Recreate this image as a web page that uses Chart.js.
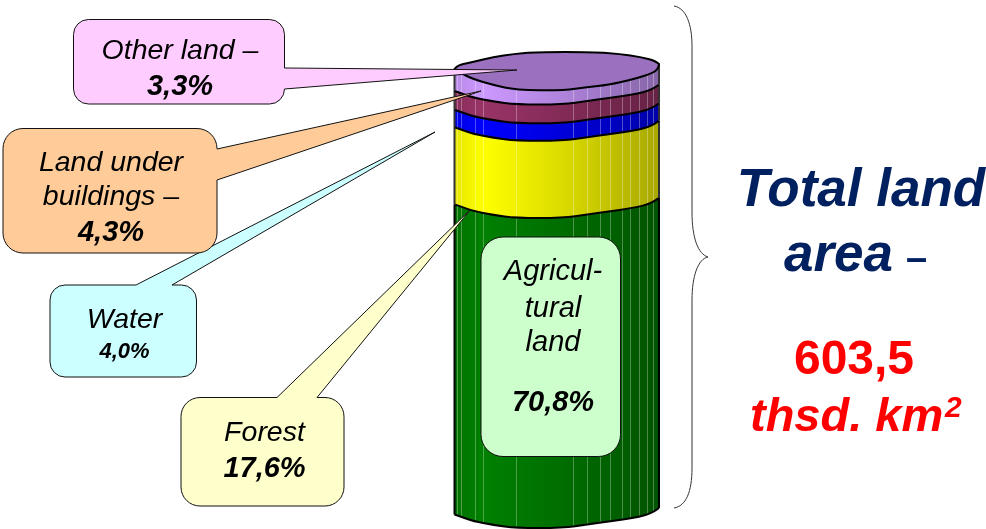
<!DOCTYPE html>
<html>
<head>
<meta charset="utf-8">
<title>Total land area</title>
<script src="https://cdn.jsdelivr.net/npm/chart.js@4"></script>
<style>
  html, body { margin: 0; padding: 0; background: #fff; overflow: hidden; }
  canvas { display: block; }
</style>
</head>
<body>
<canvas id="chart" width="986" height="529"></canvas>
<script>
// land use, bottom of the cylinder first
const categories = ["Agricultural land", "Forest", "Water", "Land under buildings", "Other land"];
const shares = [70.8, 17.6, 4.0, 4.3, 3.3];
const baseColors = [[0, 128, 0], [255, 255, 0], [0, 0, 255], [153, 51, 102], [204, 153, 255]];
const totalArea = 603.5;

// wobbly front edge of the polygonal cylinder: [fraction of width, dy]
const frontEdge = [[0, -13.5], [0.05, -10], [0.09, -7], [0.19, -3], [0.3, 0], [0.53, 0], [0.65, -3.5], [0.75, -6.5], [0.88, -10], [0.97, -15], [1, -20]];
const topFront = [[0, -21], [0.03, -17], [0.09, -11], [0.19, -5], [0.3, 0], [0.53, 0.5], [0.65, -3], [0.75, -5], [0.88, -11], [0.97, -17], [0.995, -21], [1, -26]];
const topBack = [[1, -26], [0.985, -29], [0.91, -33], [0.81, -36], [0.68, -38], [0.4, -38], [0.29, -36], [0.19, -33], [0.09, -28], [0.02, -25], [0, -21]];
const facets = [0.01, 0.03, 0.1, 0.14, 0.3, 0.58, 0.65, 0.71, 0.76, 0.82, 0.86, 0.9, 0.94, 0.97];

const SANS = '"Liberation Sans", Arial, sans-serif';

function pct(v) {
  return v.toFixed(1).replace(".", ",") + "%";
}

function shade(rgb, k) {
  return "rgb(" + rgb.map((c) => Math.round(c * k)).join(",") + ")";
}

function sideGradient(ctx, left, right, rgb) {
  const g = ctx.createLinearGradient(left, 0, right, 0);
  g.addColorStop(0, shade(rgb, 0.9));
  g.addColorStop(0.14, shade(rgb, 1));
  g.addColorStop(0.5, shade(rgb, 0.87));
  g.addColorStop(1, shade(rgb, 0.66));
  return g;
}

function edgePoints(edge, left, width, y) {
  return edge.map(([f, dy]) => [left + f * width, y + dy]);
}

// goes through the midpoints so the facets read as a soft wobble
function trace(ctx, pts, move) {
  if (move) ctx.moveTo(pts[0][0], pts[0][1]);
  else ctx.lineTo(pts[0][0], pts[0][1]);
  for (let i = 1; i < pts.length - 1; i++) {
    const mx = (pts[i][0] + pts[i + 1][0]) / 2;
    const my = (pts[i][1] + pts[i + 1][1]) / 2;
    ctx.quadraticCurveTo(pts[i][0], pts[i][1], mx, my);
  }
  const last = pts[pts.length - 1];
  ctx.lineTo(last[0], last[1]);
}

// rounded box with a wedge going out of it; side is "top" or "right"
function calloutPath(ctx, b) {
  const { x, y, w, h, r, tail } = b;
  ctx.beginPath();
  ctx.moveTo(x + r, y);
  if (tail && tail.side === "top") {
    ctx.lineTo(tail.a, y);
    ctx.lineTo(tail.tipX, tail.tipY);
    ctx.lineTo(tail.b, y);
  }
  ctx.arcTo(x + w, y, x + w, y + r, r);
  if (tail && tail.side === "right") {
    ctx.lineTo(x + w, tail.a);
    ctx.lineTo(tail.tipX, tail.tipY);
    ctx.lineTo(x + w, tail.b);
  }
  ctx.arcTo(x + w, y + h, x + w - r, y + h, r);
  ctx.arcTo(x, y + h, x, y + h - r, r);
  ctx.arcTo(x, y, x + r, y, r);
  ctx.closePath();
}

function text(ctx, str, x, y, font, color) {
  ctx.font = font + " " + SANS;
  ctx.fillStyle = color;
  ctx.fillText(str, x, y);
}

const callouts = [
  { x: 181, y: 397.5, w: 163, h: 108.5, r: 19, fill: "#ffffcc",
    tail: { side: "top", a: 277, b: 317, tipX: 471, tipY: 209 },
    lines: [["Forest", 441, 28.5, "italic"], [pct(shares[1]), 477, 29, "italic bold"]], cx: 264.5 },
  { x: 50, y: 285, w: 146.5, h: 92, r: 15, fill: "#ccffff",
    tail: { side: "top", a: 136, b: 172, tipX: 435, tipY: 132 },
    lines: [["Water", 328, 28.5, "italic"], [pct(shares[2]), 358, 22, "italic bold"]], cx: 124.5 },
  { x: 3, y: 128.5, w: 214, h: 124.5, r: 20, fill: "#ffcc99",
    tail: { side: "right", a: 149, b: 180, tipX: 481, tipY: 91 },
    lines: [["Land under", 171, 28.5, "italic"], ["buildings –", 205, 28.5, "italic"], [pct(shares[3]), 241, 29, "italic bold"]], cx: 111 },
  { x: 73.5, y: 19.5, w: 211, h: 84.5, r: 15, fill: "#ffccff",
    tail: { side: "right", a: 68, b: 89, tipX: 517, tipY: 70 },
    lines: [["Other land –", 59, 28.5, "italic"], [pct(shares[4]), 95, 29, "italic bold"]], cx: 180 },
  { x: 481, y: 237, w: 139.5, h: 219.5, r: 22, fill: "#ccffcc",
    lines: [["Agricul-", 280, 29, "italic"], ["tural", 317, 29, "italic"], ["land", 351, 29, "italic"], [pct(shares[0]), 411, 29, "italic bold"]], cx: 553 }
];

const cylinderPlugin = {
  id: "cylinder",
  // the flat bars are replaced by the faceted ones below
  beforeDatasetDraw() {
    return false;
  },
  afterDatasetsDraw(chart) {
    const ctx = chart.ctx;
    const n = chart.data.datasets.length;

    for (let i = 0; i < n; i++) {
      const bar = chart.getDatasetMeta(i).data[0];
      const left = bar.x - bar.width / 2;
      const right = left + bar.width;
      const upper = edgePoints(i === n - 1 ? topFront : frontEdge, left, bar.width, bar.y);
      const lower = edgePoints(frontEdge, left, bar.width, bar.base).reverse();

      ctx.save();
      ctx.beginPath();
      trace(ctx, upper, true);
      trace(ctx, lower, false);
      ctx.closePath();
      ctx.fillStyle = sideGradient(ctx, left, right, baseColors[i]);
      ctx.fill();

      // facet seams, clipped to the band
      ctx.clip();
      ctx.strokeStyle = "rgba(255,255,255,0.3)";
      ctx.lineWidth = 1;
      facets.forEach((f) => {
        const fx = Math.round(left + f * bar.width) + 0.5;
        ctx.beginPath();
        ctx.moveTo(fx, bar.y - 40);
        ctx.lineTo(fx, bar.base + 5);
        ctx.stroke();
      });
      ctx.restore();

      ctx.strokeStyle = "#000";
      ctx.lineWidth = 2;
      ctx.lineJoin = "round";
      ctx.beginPath();
      trace(ctx, lower, true);
      ctx.stroke();
      ctx.strokeStyle = i === 0 ? "#000" : "#333";
      ctx.beginPath();
      ctx.moveTo(upper[0][0], upper[0][1]);
      ctx.lineTo(lower[lower.length - 1][0], lower[lower.length - 1][1]);
      ctx.moveTo(upper[upper.length - 1][0], upper[upper.length - 1][1]);
      ctx.lineTo(lower[0][0], lower[0][1]);
      ctx.stroke();
    }

    // top face
    const topBar = chart.getDatasetMeta(n - 1).data[0];
    const tl = topBar.x - topBar.width / 2;
    ctx.beginPath();
    trace(ctx, edgePoints(topFront, tl, topBar.width, topBar.y), true);
    trace(ctx, edgePoints(topBack, tl, topBar.width, topBar.y), false);
    ctx.closePath();
    ctx.fillStyle = "#9a70bf";
    ctx.fill();
    ctx.strokeStyle = "#000";
    ctx.lineWidth = 2;
    ctx.stroke();

    // callouts
    ctx.textAlign = "center";
    ctx.textBaseline = "alphabetic";
    callouts.forEach((c) => {
      calloutPath(ctx, c);
      ctx.fillStyle = c.fill;
      ctx.fill();
      ctx.strokeStyle = "#111";
      ctx.lineWidth = 1;
      ctx.stroke();
      c.lines.forEach(([str, y, size, style]) => {
        text(ctx, str, c.cx, y, style + " " + size + "px", "#000");
      });
    });

    // brace
    ctx.beginPath();
    ctx.moveTo(674, 6);
    ctx.bezierCurveTo(686, 8, 692, 24, 692, 46);
    ctx.lineTo(692, 212);
    ctx.bezierCurveTo(692, 238, 698, 254, 708, 257);
    ctx.bezierCurveTo(698, 259, 692, 276, 692, 300);
    ctx.lineTo(692, 468);
    ctx.bezierCurveTo(692, 492, 686, 506, 674, 508);
    ctx.strokeStyle = "#333";
    ctx.lineWidth = 1;
    ctx.stroke();

    // right hand caption
    const navy = "#002060";
    text(ctx, "Total land", 861, 206, "italic bold 53px", navy);
    ctx.textAlign = "left";
    text(ctx, "area", 784, 271, "italic bold 53px", navy);
    text(ctx, "–", 906, 271, "bold 38px", navy);
    ctx.textAlign = "center";
    text(ctx, totalArea.toFixed(1).replace(".", ","), 854, 374, "bold 48px", "#ff0000");
    ctx.textAlign = "left";
    text(ctx, "thsd. km", 750, 431, "italic bold 47px", "#ff0000");
    text(ctx, "2", 945, 417, "italic bold 30px", "#ff0000");
    ctx.textAlign = "center";
  }
};

new Chart(document.getElementById("chart"), {
  type: "bar",
  data: {
    labels: ["Total land area"],
    datasets: categories.map((name, i) => ({
      label: name,
      data: [shares[i]],
      backgroundColor: shade(baseColors[i], 1),
      barPercentage: 1,
      categoryPercentage: 1
    }))
  },
  options: {
    responsive: false,
    animation: false,
    layout: { padding: { left: 454.5, right: 327, top: 90, bottom: 1 } },
    plugins: { legend: { display: false }, tooltip: { enabled: false } },
    scales: {
      x: { stacked: true, display: false },
      y: { stacked: true, display: false, min: 0, max: 100 }
    }
  },
  plugins: [cylinderPlugin]
});
</script>
</body>
</html>
